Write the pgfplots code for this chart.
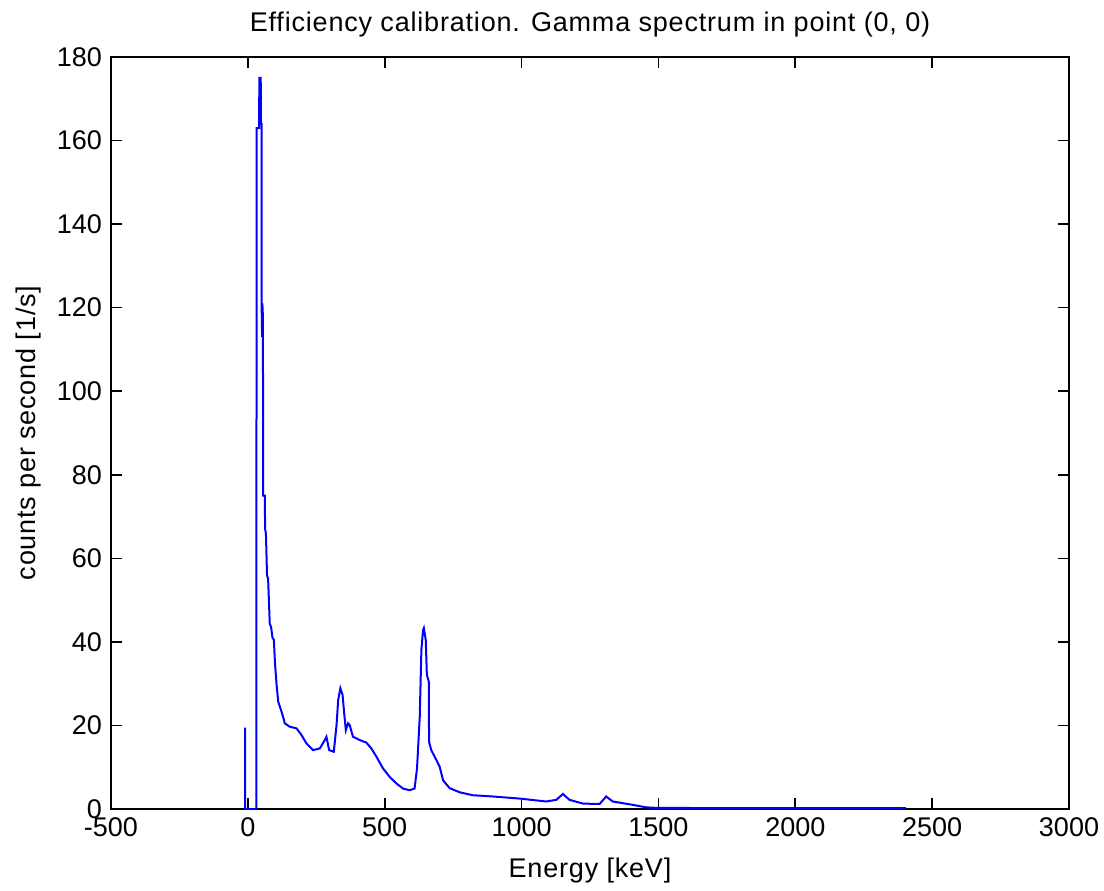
\documentclass[border=0pt]{standalone}
\usepackage{fontspec}
\setmainfont{Liberation Sans}
\newfontfamily\labelfont[LetterSpace=3]{Liberation Sans}
\usepackage{pgfplots}
\pgfplotsset{compat=1.18}

\begin{document}
\begin{tikzpicture}
\begin{axis}[
    scale only axis,
    width=479pt,
    height=376pt,
    xmin=-500, xmax=3000,
    ymin=0, ymax=180,
    xtick={-500,0,...,3000},
    ytick={0,20,...,180},
    tick align=inside,
    major tick length=5.5pt,
    axis line style={line width=0.8pt},
    tick style={line width=0.8pt, black},
    /pgf/number format/assume math mode=true,
    /pgf/number format/1000 sep={},
    tick label style={font=\fontsize{13.5}{15}\selectfont},
    xticklabel style={yshift=-1pt},
    yticklabel style={xshift=-1pt},
    label style={font=\labelfont\fontsize{13.5}{15}\selectfont},
    title style={font=\labelfont\fontsize{13.5}{15}\selectfont, yshift=0.5pt},
    title={Efficiency calibration. Gamma spectrum in point (0, 0)},
    xlabel={Energy [keV]},
    ylabel={counts per second [1/s]},
    xlabel style={yshift=-3.5pt},
    ylabel style={yshift=1pt},
]
\addplot[color=blue, line width=1pt] coordinates {
    (-10,19.5) (-10,0) (31,0) (32,163) (41,163) (42,175) (47,175) (48,164)
    (50,164) (50,122) (52,113) (53,121) (55,118) (56,75) (62,75) (63,67)
    (66,66) (70,56) (74,55) (80,44.4) (85,43.5) (90,41) (95,40.5) (99,35)
    (105,29.7) (111,25.7) (117,24.5) (123,23.3) (129,22) (135,20.5)
    (153,19.7) (178,19.3) (196,17.7) (214,15.7) (238,14.1) (263,14.5)
    (281,16.5) (287,17.3) (297,14.1) (314,13.7) (324,20.1) (330,26.1)
    (338,28.9) (346,27.3) (352,22.9) (358,18.9) (366,20.5) (372,20.1)
    (384,17.3) (409,16.5) (433,15.9) (451,14.5) (470,12.5) (494,9.7)
    (518,7.7) (543,6.1) (567,4.9) (591,4.5) (609,4.9) (618,9.7) (628,22.1)
    (634,38.1) (640,42.8) (643,43.3) (650,40.4) (654,32.1) (661,30.5)
    (662,16.1) (670,14.1) (689,11.7) (701,10.1) (713,6.9) (737,5.0)
    (774,4.0) (822,3.3) (895,3.0) (993,2.5) (1090,1.8) (1127,2.2)
    (1151,3.6) (1175,2.2) (1224,1.3) (1285,1.2) (1309,3.0) (1333,1.8)
    (1406,1.0) (1455,0.4) (1500,0.25) (2404,0.2)
};
\end{axis}
\pgfresetboundingbox
\path ([shift={(-55.5pt,-40.5pt)}]current axis.south west)
    rectangle ([shift={(17.5pt,28.5pt)}]current axis.north east);
\end{tikzpicture}
\end{document}
